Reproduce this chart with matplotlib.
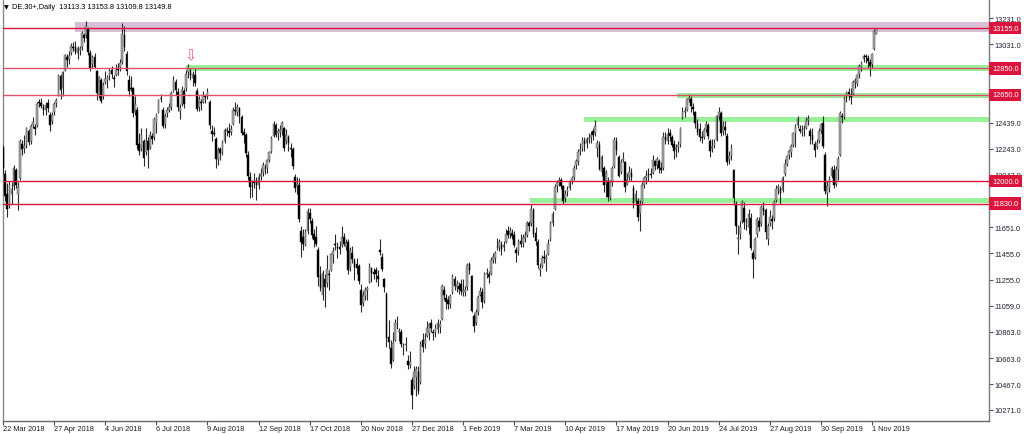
import matplotlib
matplotlib.use("Agg")
import matplotlib.pyplot as plt
from matplotlib.patches import Rectangle
from matplotlib.transforms import blended_transform_factory
import numpy as np

plt.rcParams['font.family'] = ['Liberation Sans', 'DejaVu Sans']

# ---------------- data (daily bars, DE.30+ CFD, 22 Mar 2018 .. 5 Nov 2019) ----------------
opens = [
    12250, 12050, 11900, 11820, 11900, 11960, 12080, 11900, 12020, 12280, 12250, 12270, 12380, 12300, 12420, 12410, 12420, 12600, 12590, 12560, 12540, 12590, 12500, 12450,
    12520, 12590, 12650, 12790, 12700, 12840, 12940, 12920, 12970, 13010, 13010, 12970, 12990, 13010, 13100, 13100, 13150, 12970, 12880, 12940, 12830, 12650, 12760, 12640,
    12750, 12760, 12800, 12840, 12780, 12800, 12850, 12860, 12900, 13100, 12960, 12760, 12700, 12700, 12530, 12540, 12280, 12250, 12300, 12220, 12300, 12260, 12340, 12330,
    12440, 12520, 12620, 12540, 12430, 12510, 12540, 12560, 12680, 12750, 12670, 12530, 12580, 12680, 12700, 12820, 12830, 12780, 12800, 12680, 12560, 12600, 12600, 12640,
    12650, 12600, 12380, 12360, 12320, 12170, 12240, 12220, 12300, 12380, 12380, 12370, 12430, 12540, 12520, 12550, 12480, 12370, 12350, 12200, 12030, 11960, 11990, 11990,
    11970, 12040, 12070, 12100, 12100, 12160, 12230, 12340, 12420, 12360, 12370, 12380, 12400, 12300, 12330, 12250, 12240, 12030, 11960, 11970, 11620, 11580, 11520, 11620,
    11760, 11700, 11600, 11580, 11480, 11290, 11140, 11260, 11230, 11300, 11330, 11440, 11520, 11500, 11500, 11520, 11580, 11500, 11540, 11350, 11460, 11400, 11370, 11360,
    11180, 11080, 11130, 11180, 11240, 11340, 11310, 11330, 11280, 11480, 11430, 11260, 11150, 10820, 10740, 10650, 10800, 10920, 10860, 10860, 10740, 10760, 10640, 10610,
    10500, 10450, 10520, 10560, 10480, 10800, 10770, 10830, 10850, 10930, 10860, 10860, 10880, 10900, 10960, 11180, 11120, 11100, 11070, 11160, 11260, 11200, 11210, 11220,
    11160, 11160, 11200, 11370, 11280, 10980, 10930, 11010, 11140, 11160, 11100, 11300, 11300, 11300, 11400, 11420, 11500, 11500, 11520, 11500, 11540, 11620, 11600, 11610,
    11590, 11480, 11470, 11550, 11530, 11570, 11590, 11680, 11680, 11780, 11610, 11540, 11330, 11360, 11420, 11410, 11450, 11560, 11680, 11790, 11960, 11990, 12010, 11960,
    11870, 11920, 11950, 12010, 12030, 12120, 12150, 12230, 12250, 12300, 12290, 12320, 12330, 12380, 12360, 12250, 12270, 12070, 12100, 11980, 12000, 11880, 12000, 12110,
    12300, 12180, 12070, 12160, 12140, 11980, 12030, 12060, 11950, 11850, 11850, 11760, 11840, 11970, 12020, 12050, 12050, 12060, 12150, 12120, 12150, 12100, 12100, 12330,
    12300, 12360, 12330, 12280, 12240, 12260, 12280, 12480, 12520, 12540, 12620, 12620, 12560, 12520, 12440, 12390, 12330, 12330, 12390, 12420, 12300, 12250, 12270, 12310,
    12490, 12510, 12380, 12410, 12340, 12170, 12200, 12080, 11830, 11560, 11600, 11700, 11800, 11680, 11650, 11720, 11460, 11430, 11600, 11700, 11680, 11800, 11780, 11560,
    11680, 11710, 11720, 11860, 11950, 11940, 11930, 12050, 12130, 12200, 12220, 12270, 12360, 12420, 12390, 12380, 12390, 12400, 12460, 12380, 12350, 12280, 12260, 12300,
    12380, 12440, 12200, 11910, 11950, 12040, 12080, 11980, 12080, 12200, 12490, 12480, 12640, 12670, 12650, 12660, 12750, 12740, 12810, 12860, 12920, 12940, 12930, 12900, 12880, 13000, 13113.3,
]
highs = [
    12270, 12080, 11985, 12000, 11990, 12120, 12100, 11990, 12320, 12310, 12350, 12410, 12390, 12430, 12480, 12430, 12600, 12620, 12630, 12580, 12600, 12620, 12520, 12520,
    12600, 12630, 12810, 12810, 12830, 12960, 12960, 12980, 13040, 13050, 13060, 13020, 13020, 13130, 13120, 13210, 13160, 12990, 12950, 12970, 12840, 12790, 12780, 12750,
    12830, 12800, 12850, 12870, 12800, 12880, 12890, 12920, 13190, 13170, 12980, 12800, 12790, 12710, 12640, 12560, 12360, 12400, 12320, 12400, 12330, 12380, 12360, 12480,
    12510, 12620, 12660, 12560, 12510, 12560, 12590, 12680, 12790, 12770, 12700, 12580, 12720, 12700, 12840, 12885, 12850, 12830, 12850, 12700, 12640, 12620, 12680, 12660,
    12700, 12610, 12420, 12410, 12330, 12260, 12260, 12310, 12400, 12410, 12440, 12420, 12560, 12600, 12580, 12560, 12500, 12400, 12360, 12230, 12070, 12010, 12060, 12030,
    12060, 12100, 12140, 12130, 12170, 12230, 12340, 12450, 12440, 12400, 12420, 12450, 12410, 12390, 12350, 12290, 12260, 12050, 12030, 12020, 11660, 11640, 11640, 11800,
    11800, 11720, 11640, 11660, 11500, 11360, 11330, 11300, 11440, 11330, 11460, 11500, 11600, 11540, 11550, 11660, 11610, 11560, 11560, 11500, 11510, 11420, 11420, 11370,
    11220, 11170, 11200, 11210, 11380, 11350, 11340, 11350, 11330, 11560, 11460, 11270, 11160, 10950, 10800, 10860, 10960, 10980, 10890, 10880, 10780, 10820, 10690, 10720,
    10520, 10600, 10600, 10600, 10790, 10850, 10850, 10940, 10930, 10960, 10880, 10920, 10960, 10950, 11220, 11210, 11150, 11130, 11150, 11300, 11280, 11250, 11240, 11260,
    11260, 11210, 11380, 11390, 11290, 11000, 11030, 11140, 11200, 11190, 11310, 11340, 11320, 11430, 11460, 11470, 11570, 11560, 11550, 11550, 11640, 11660, 11650, 11640,
    11620, 11500, 11560, 11600, 11600, 11620, 11700, 11700, 11830, 11800, 11650, 11560, 11380, 11440, 11480, 11450, 11560, 11700, 11770, 11980, 12000, 12030, 12020, 11970,
    11930, 11960, 12010, 12040, 12120, 12170, 12240, 12290, 12330, 12330, 12330, 12360, 12380, 12400, 12460, 12310, 12300, 12200, 12110, 12080, 12030, 12010, 12110, 12330,
    12330, 12200, 12170, 12220, 12150, 12060, 12110, 12100, 11970, 11930, 11870, 11860, 11990, 12040, 12080, 12100, 12100, 12200, 12160, 12180, 12170, 12140, 12370, 12370,
    12400, 12390, 12350, 12310, 12280, 12300, 12410, 12560, 12560, 12630, 12656, 12640, 12590, 12530, 12470, 12440, 12380, 12400, 12450, 12440, 12320, 12320, 12320, 12500,
    12560, 12530, 12450, 12450, 12360, 12230, 12280, 12090, 11850, 11670, 11700, 11860, 11840, 11720, 11790, 11760, 11480, 11580, 11730, 11730, 11820, 11840, 11800, 11680,
    11780, 11740, 11860, 11970, 11980, 11960, 12040, 12170, 12200, 12240, 12280, 12370, 12430, 12490, 12420, 12420, 12420, 12480, 12500, 12400, 12400, 12300, 12320, 12400,
    12440, 12490, 12220, 12000, 12040, 12110, 12120, 12110, 12190, 12530, 12510, 12640, 12680, 12700, 12700, 12760, 12780, 12810, 12880, 12910, 12960, 12960, 12950, 12920, 12970, 13150, 13153.8,
]
lows = [
    12050, 11850, 11726, 11800, 11830, 11930, 11950, 11780, 12010, 12200, 12210, 12250, 12270, 12280, 12400, 12350, 12410, 12560, 12550, 12500, 12500, 12520, 12380, 12430,
    12500, 12560, 12640, 12620, 12640, 12830, 12860, 12880, 12950, 12980, 12960, 12920, 12950, 12990, 13050, 13080, 12950, 12830, 12850, 12850, 12610, 12630, 12590, 12620,
    12730, 12700, 12760, 12780, 12710, 12790, 12800, 12830, 12880, 12980, 12800, 12640, 12680, 12480, 12500, 12240, 12200, 12230, 12110, 12200, 12100, 12240, 12280, 12310,
    12360, 12510, 12600, 12400, 12400, 12480, 12520, 12540, 12670, 12650, 12530, 12470, 12570, 12550, 12680, 12780, 12760, 12720, 12720, 12530, 12530, 12540, 12590, 12590,
    12620, 12390, 12300, 12340, 12100, 12120, 12160, 12200, 12290, 12340, 12330, 12350, 12420, 12500, 12490, 12440, 12350, 12290, 12180, 12010, 11870, 11880, 11950, 11860,
    11940, 12010, 12040, 12050, 12060, 12140, 12210, 12330, 12330, 12310, 12330, 12350, 12230, 12280, 12230, 12180, 12090, 11920, 11900, 11690, 11430, 11480, 11510, 11600,
    11680, 11570, 11500, 11510, 11210, 11170, 11100, 11050, 11200, 11180, 11320, 11380, 11480, 11420, 11450, 11500, 11510, 11480, 11300, 11320, 11380, 11250, 11300, 11220,
    11010, 11060, 11100, 11100, 11230, 11240, 11260, 11240, 11210, 11440, 11320, 11160, 10750, 10740, 10590, 10640, 10790, 10880, 10790, 10750, 10690, 10720, 10580, 10590,
    10279, 10430, 10380, 10390, 10470, 10710, 10740, 10820, 10800, 10860, 10800, 10820, 10850, 10850, 10950, 11100, 11030, 11030, 11040, 11150, 11180, 11160, 11150, 11140,
    11130, 11130, 11180, 11300, 11010, 10860, 10910, 10990, 11130, 11040, 11080, 11270, 11230, 11290, 11380, 11380, 11480, 11470, 11440, 11470, 11530, 11570, 11570, 11560,
    11500, 11390, 11440, 11500, 11500, 11540, 11580, 11620, 11660, 11580, 11520, 11340, 11280, 11340, 11380, 11320, 11440, 11550, 11660, 11780, 11920, 11960, 11940, 11830,
    11840, 11890, 11930, 11980, 12010, 12090, 12120, 12200, 12230, 12230, 12250, 12290, 12290, 12310, 12340, 12180, 12080, 12040, 11920, 11880, 11850, 11860, 11960, 12100,
    12200, 12030, 12050, 12140, 11920, 11970, 12010, 12000, 11800, 11820, 11700, 11620, 11820, 11950, 11980, 12000, 12020, 12050, 12080, 12090, 12060, 12060, 12080, 12280,
    12280, 12300, 12260, 12170, 12180, 12220, 12260, 12470, 12480, 12530, 12600, 12520, 12500, 12400, 12350, 12300, 12290, 12320, 12370, 12320, 12180, 12220, 12250, 12300,
    12460, 12340, 12350, 12350, 12120, 12130, 12160, 11830, 11600, 11450, 11560, 11680, 11640, 11630, 11600, 11480, 11266, 11410, 11580, 11620, 11660, 11740, 11560, 11520,
    11660, 11640, 11700, 11840, 11900, 11830, 11920, 12040, 12110, 12170, 12180, 12260, 12260, 12400, 12360, 12340, 12340, 12390, 12420, 12280, 12280, 12180, 12240, 12290,
    12360, 12250, 11900, 11810, 11920, 12020, 11950, 11960, 12010, 12190, 12440, 12470, 12600, 12610, 12580, 12650, 12700, 12720, 12780, 12830, 12900, 12890, 12850, 12790, 12850, 12990, 13109.8,
]
closes = [
    12101, 11886, 11788, 11970, 11940, 12097, 11970, 11957, 12305, 12241, 12261, 12397, 12294, 12415, 12442, 12391, 12585, 12590, 12567, 12540, 12572, 12550, 12422, 12500,
    12580, 12612, 12802, 12690, 12820, 12948, 12912, 12943, 13022, 13001, 12977, 13001, 12996, 13114, 13077, 13169, 12976, 12855, 12938, 12863, 12666, 12783, 12605, 12724,
    12770, 12787, 12830, 12811, 12767, 12842, 12842, 12890, 13107, 13010, 12834, 12677, 12695, 12512, 12579, 12270, 12228, 12348, 12177, 12306, 12238, 12349, 12317, 12465,
    12497, 12609, 12625, 12417, 12492, 12540, 12561, 12661, 12766, 12686, 12561, 12549, 12690, 12579, 12809, 12860, 12798, 12805, 12737, 12546, 12616, 12587, 12648, 12634,
    12676, 12424, 12358, 12358, 12163, 12237, 12210, 12295, 12384, 12385, 12366, 12394, 12538, 12527, 12562, 12494, 12364, 12346, 12210, 12040, 11955, 11959, 11987, 11970,
    12032, 12055, 12124, 12096, 12157, 12219, 12326, 12430, 12350, 12374, 12385, 12435, 12247, 12346, 12287, 12244, 12111, 11947, 11977, 11712, 11539, 11524, 11614, 11777,
    11715, 11589, 11553, 11524, 11274, 11191, 11307, 11201, 11335, 11287, 11447, 11468, 11519, 11494, 11484, 11579, 11527, 11529, 11325, 11472, 11412, 11353, 11341, 11244,
    11066, 11138, 11180, 11192, 11354, 11309, 11298, 11298, 11257, 11465, 11335, 11200, 10811, 10788, 10622, 10780, 10931, 10924, 10865, 10772, 10740, 10766, 10611, 10634,
    10382, 10559, 10580, 10416, 10767, 10747, 10803, 10893, 10921, 10887, 10856, 10891, 10931, 10919, 11205, 11136, 11090, 11071, 11130, 11281, 11210, 11219, 11182, 11173,
    11180, 11176, 11368, 11325, 11022, 10906, 11014, 11126, 11167, 11089, 11299, 11309, 11278, 11401, 11423, 11457, 11505, 11540, 11487, 11515, 11602, 11592, 11620, 11587,
    11517, 11457, 11543, 11524, 11572, 11587, 11686, 11657, 11788, 11603, 11550, 11364, 11346, 11419, 11419, 11428, 11526, 11681, 11754, 11954, 11988, 12010, 11963, 11850,
    11905, 11935, 11999, 12020, 12101, 12153, 12222, 12235, 12313, 12282, 12315, 12328, 12344, 12345, 12412, 12286, 12093, 12179, 11973, 12060, 11876, 11992, 12099, 12310,
    12238, 12041, 12143, 12168, 11952, 12011, 12071, 12027, 11837, 11902, 11727, 11820, 11971, 12021, 12040, 12046, 12045, 12158, 12116, 12169, 12096, 12086, 12332, 12309,
    12355, 12340, 12274, 12228, 12249, 12271, 12399, 12521, 12528, 12616, 12629, 12568, 12543, 12436, 12373, 12332, 12323, 12387, 12430, 12342, 12227, 12260, 12289, 12490,
    12522, 12362, 12419, 12386, 12147, 12189, 12253, 11872, 11658, 11567, 11650, 11845, 11694, 11680, 11750, 11493, 11412, 11563, 11715, 11651, 11802, 11777, 11612, 11658,
    11731, 11701, 11838, 11939, 11953, 11910, 12025, 12126, 12192, 12226, 12268, 12360, 12410, 12469, 12381, 12389, 12390, 12457, 12468, 12342, 12307, 12234, 12288, 12381,
    12428, 12263, 11925, 11960, 12013, 12097, 11970, 12094, 12164, 12511, 12486, 12629, 12670, 12654, 12633, 12748, 12754, 12798, 12872, 12894, 12941, 12939, 12910, 12867, 12962, 13136, 13149.8,
]

date_labels = ["22 Mar 2018", "27 Apr 2018", "4 Jun 2018", "6 Jul 2018", "9 Aug 2018",
               "12 Sep 2018", "17 Oct 2018", "20 Nov 2018", "27 Dec 2018", "1 Feb 2019",
               "7 Mar 2019", "10 Apr 2019", "17 May 2019", "20 Jun 2019", "24 Jul 2019",
               "27 Aug 2019", "30 Sep 2019", "1 Nov 2019"]
bars_per_label = 24

price_ticks = [13231.0, 13031.0, 12439.0, 12243.0, 12047.0, 11847.0, 11651.0, 11455.0,
               11255.0, 11059.0, 10863.0, 10663.0, 10467.0, 10271.0]

# horizontal levels
levels = [13155.0, 12850.0, 12650.0, 12000.0, 11830.0]
level_colors = ['#dc143c', '#e2506e', '#e2506e', '#dc143c', '#dc143c']

# zones: (start bar, low, high, colour)
zone_start = [34, 86, 316.5, 273, 247.5]
zone_low = [13126, 12830, 12626, 12443, 11834]
zone_high = [13200, 12876, 12665, 12487, 11872]
zone_color = ['#d8bfd8', '#98f098', '#98f098', '#98f098', '#98f098']

arrow_bar = 88
arrow_price = 12895

title = "DE.30+,Daily  13113.3 13153.8 13109.8 13149.8"

# ---------------- figure ----------------
W, H = 1024, 435
FS = 5.3
fig = plt.figure(figsize=(W / 100, H / 100), dpi=100)
ax_left, ax_right, ax_bottom_px, ax_top_px = 2.5, 989.0, 421.5, 0.0
ax = fig.add_axes([ax_left / W, (H - ax_bottom_px) / H, (ax_right - ax_left) / W,
                   (ax_bottom_px - ax_top_px) / H])

n = len(closes)
x = np.arange(n)
o = np.array(opens[:n], float)
h = np.array(highs[:n], float)
l = np.array(lows[:n], float)
c = np.array(closes[:n], float)

xmax = 462.9
ax.set_xlim(-0.23, xmax)
ax.set_ylim(10191.7, 13374.5)

# zones
for s, lo, hi, col in zip(zone_start, zone_low, zone_high, zone_color):
    ax.add_patch(Rectangle((s, lo), xmax - s + 5, hi - lo, facecolor=col,
                           edgecolor='none', zorder=1))

# candles
ax.vlines(x, l, h, color='#2a2a2a', linewidth=0.8, zorder=3)
up = c >= o
body_lo = np.minimum(o, c)
body_h = np.maximum(np.abs(c - o), 4)
ax.bar(x[up], body_h[up], bottom=body_lo[up], width=0.8, color='#a8a8a8',
       edgecolor='#555555', linewidth=0.35, zorder=4)
ax.bar(x[~up], body_h[~up], bottom=body_lo[~up], width=0.8, color='#000000',
       edgecolor='#000000', linewidth=0.3, zorder=4)

# levels
for lv, col in zip(levels, level_colors):
    ax.axhline(lv, color=col, linewidth=1.0, zorder=5)

# arrow marker
ax.text(arrow_bar, arrow_price, "\u21e9", color='#f25a78', fontsize=10.5,
        family='DejaVu Sans', ha='center', va='bottom', zorder=6)

# axes styling
ax.spines['top'].set_visible(False)
ax.spines['left'].set_color('#8a8a8a')
ax.spines['right'].set_color('#7a7a7a')
ax.spines['bottom'].set_color('#6a6a6a')
for sp in ['left', 'right', 'bottom']:
    ax.spines[sp].set_linewidth(1.0)

ax.yaxis.tick_right()
ax.set_yticks(price_ticks)
ax.set_yticklabels([f"{v:.1f}" for v in price_ticks])
ax.tick_params(axis='y', which='both', length=3, width=0.8, color='#505050',
               labelsize=FS, labelcolor='#202035', pad=1.2, left=False)

tick_pos = [i * bars_per_label for i in range(len(date_labels))]
ax.set_xticks(tick_pos)
ax.set_xticklabels(date_labels, ha='left')
ax.tick_params(axis='x', length=3, width=0.8, color='#505050', labelsize=FS,
               labelcolor='#202020', pad=0.6)
for lab in ax.get_xticklabels():
    lab.set_x(lab.get_position()[0])

# right-hand level boxes
tr = blended_transform_factory(ax.transAxes, ax.transData)
for lv in levels:
    ax.text(1.0 + 3.0 / (ax_right - ax_left), lv, f"{lv:.1f}", transform=tr,
            ha='left', va='center', fontsize=FS, color='white', clip_on=False,
            zorder=10,
            bbox=dict(boxstyle='square,pad=0.38', facecolor='#dc143c', edgecolor='none'))

# title
fig.text(4.0 / W, 1 - 7.5 / H, "\u25bc", fontsize=4.5, family='DejaVu Sans',
         color='#000000', ha='left', va='center')
fig.text(12 / W, 1 - 7.5 / H, title, fontsize=FS, color='#000000', ha='left', va='center')

fig.savefig("out.png", dpi=100, facecolor='white')
